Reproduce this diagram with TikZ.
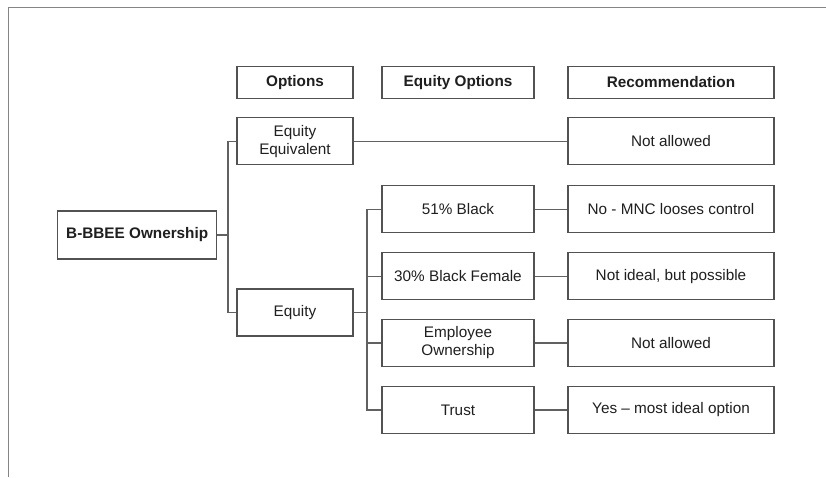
\documentclass[tikz,border=0pt]{standalone}
\usepackage{fontspec}
\setmainfont{Liberation Sans}
\begin{document}
\begin{tikzpicture}[x=1pt,y=-1pt,
  every node/.style={font=\fontsize{15.3}{18}\selectfont, text=black!88},
  box/.style={draw=black!68, line width=1.2pt, fill=white, inner sep=0pt,
              align=center, minimum height=47pt},
  head/.style={box, minimum height=31.5pt, font=\fontsize{15.3}{18}\selectfont\bfseries},
  colA/.style={minimum width=116pt},
  colB/.style={minimum width=152pt},
  colC/.style={minimum width=206pt},
  link/.style={draw=black!62, line width=1.1pt},
  frame/.style={draw=black!48, line width=1pt}]
  \useasboundingbox (0,0) rectangle (826,477);

  % page frame (top and left edges)
  \draw[frame] (8,477) -- (8,7) -- (826,7);

  % column headers
  \node[head, colA] (hOpt) at (295,82.5) {Options};
  \node[head, colB] (hEq)  at (458,82.5) {Equity Options};
  \node[head, colC] (hRec) at (671,82.5) {Recommendation};

  % root
  \node[box, minimum width=159pt, minimum height=48pt,
        font=\fontsize{15.3}{18}\selectfont\bfseries] (root) at (137.2,235) {B-BBEE Ownership};

  % options
  \node[box, colA] (ee) at (295,141.3) {Equity\\Equivalent};
  \node[box, colA] (eq) at (295,312.5) {Equity};

  % equity options
  \node[box, colB] (b51)   at (458,209.2) {51\% Black};
  \node[box, colB] (b30)   at (458,276.2) {30\% Black Female};
  \node[box, colB] (emp)   at (458,343)   {Employee\\Ownership};
  \node[box, colB] (trust) at (458,410)   {Trust};

  % recommendations
  \node[box, colC] (rEE)    at (671,141.3) {Not allowed};
  \node[box, colC] (r51)    at (671,209.2) {No - MNC looses control};
  \node[box, colC] (r30)    at (671,276.2) {Not ideal, but possible};
  \node[box, colC] (rEmp)   at (671,343)   {Not allowed};
  \node[box, colC] (rTrust) at (671,410)   {Yes -- most ideal option};

  % branching buses
  \coordinate (bus1) at (228,235);
  \coordinate (bus2) at (367,312.5);

  \draw[link] (root.east) -- (bus1);
  \draw[link] (ee.west) -| (bus1);
  \draw[link] (eq.west) -| (bus1);

  \draw[link] (eq.east) -- (bus2);
  \draw[link] (b51.west) -| (bus2);
  \draw[link] (b30.west) -| (bus2);
  \draw[link] (emp.west) -| (bus2);
  \draw[link] (trust.west) -| (bus2);

  \draw[link] (ee.east) -- (rEE.west);
  \draw[link] (b51.east) -- (r51.west);
  \draw[link] (b30.east) -- (r30.west);
  \draw[link] (emp.east) -- (rEmp.west);
  \draw[link] (trust.east) -- (rTrust.west);
\end{tikzpicture}
\end{document}
